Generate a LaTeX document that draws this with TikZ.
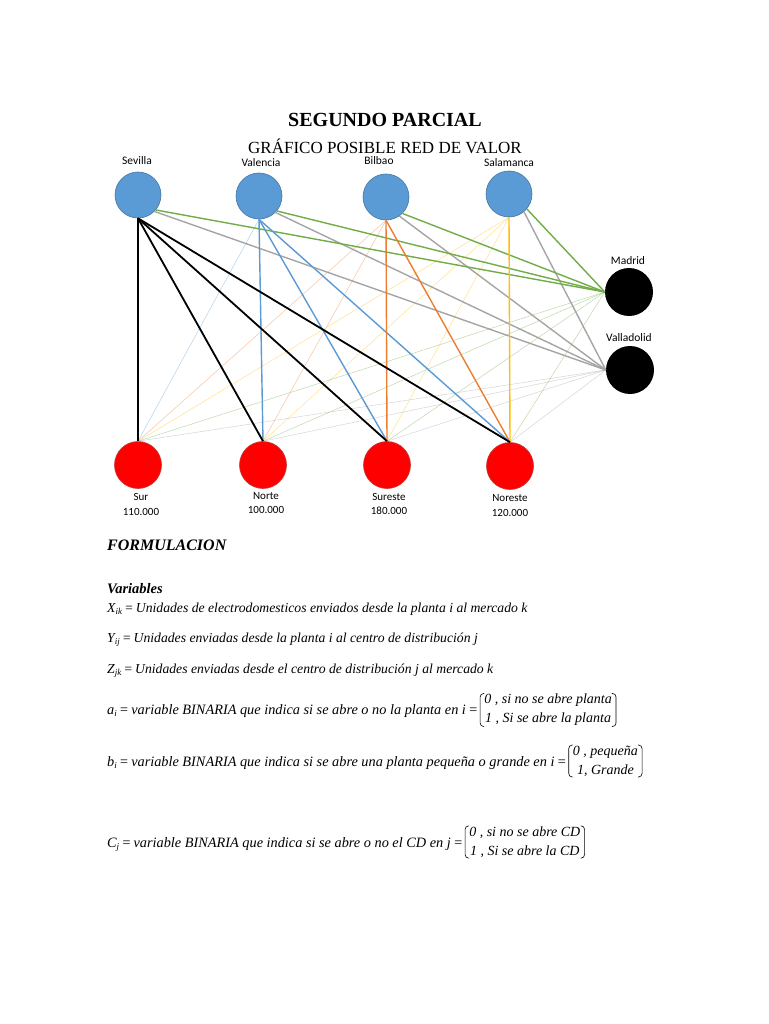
\documentclass[tikz,border=0pt]{standalone}
\usepackage{fontspec}
\setmainfont{Liberation Serif}
\newfontfamily\labfont{Carlito}
\usetikzlibrary{calc}
\definecolor{cblue}{HTML}{5B9BD5}
\definecolor{cgreen}{HTML}{70AD47}
\definecolor{cgray}{HTML}{A5A5A5}
\definecolor{corange}{HTML}{ED7D31}
\definecolor{cyellow}{HTML}{FFC000}
\definecolor{cred}{HTML}{FF0000}
\newcommand\subs[1]{\raisebox{-0.35ex}{\fontsize{9}{10}\selectfont #1}}
\begin{document}
\begin{tikzpicture}[x=1pt,y=-1pt,
  plant/.style={circle,fill=cblue,draw=cblue!75!black,line width=0.6pt,minimum size=46pt,inner sep=0pt},
  market/.style={circle,fill=cred,draw=cred!55!gray,line width=0.6pt,minimum size=47pt,inner sep=0pt},
  cd/.style={circle,fill=black,minimum size=48pt,inner sep=0pt},
  lab/.style={font=\labfont\fontsize{11}{13}\selectfont,inner sep=0pt},
  toplab/.style={font=\labfont\fontsize{11.5}{13}\selectfont,inner sep=0pt},
  strong/.style={line width=1.4pt},
  heavy/.style={line width=1.8pt},
  faint/.style={line width=0.5pt,opacity=0.45},
  eq/.style={font=\itshape\fontsize{13.7}{17}\selectfont,inner sep=0pt,anchor=base west},
  eqb/.style={font=\itshape\fontsize{14.3}{17}\selectfont,inner sep=0pt,anchor=base west},
  brk/.style={font=\itshape\fontsize{14}{19}\selectfont,align=center,inner xsep=4pt,inner ysep=0.5pt,anchor=west},
  brline/.style={line width=0.6pt,rounded corners=3.5pt},
]
\fill[white] (0,0) rectangle (768,1024);
\useasboundingbox (0,0) rectangle (768,1024);

% titles
\node[font=\bfseries\fontsize{20}{24}\selectfont] (t1) at (385,120) {SEGUNDO PARCIAL};
\node[font=\fontsize{17}{20}\selectfont] (t2) at (385,146) {GRÁFICO POSIBLE RED DE VALOR};

% nodes
\node[plant] (sev) at (138,195) {};
\node[plant] (val) at (259,196) {};
\node[plant] (bil) at (386,197) {};
\node[plant] (sal) at (509,194) {};
\node[cd] (mad) at (629,292) {};
\node[cd] (vld) at (630,370) {};
\node[market] (sur) at (138,465) {};
\node[market] (nor) at (263,465) {};
\node[market] (sue) at (387,465) {};
\node[market] (nre) at (510,466) {};

% labels
\node[toplab] (lsev) at (137,161) {Sevilla};
\node[toplab] (lval) at (261,163) {Valencia};
\node[toplab] (lbil) at (379,161) {Bilbao};
\node[toplab] (lsal) at (509,163) {Salamanca};
\node[toplab] (lmad) at (628,261) {Madrid};
\node[toplab] (lvld) at (629,338) {Valladolid};
\node[lab] (lsur) at (141,497) {Sur};
\node[lab] (vsur) at (141,512) {110.000};
\node[lab] (lnor) at (266,496) {Norte};
\node[lab] (vnor) at (266,510) {100.000};
\node[lab] (lsue) at (389,497) {Sureste};
\node[lab] (vsue) at (389,511) {180.000};
\node[lab] (lnre) at (510,498) {Noreste};
\node[lab] (vnre) at (510,513) {120.000};

% faint connectors
\draw[faint,cblue] (sur.north) -- (val.south);
\foreach \m in {sur,nor} \draw[faint,corange] (\m.north) -- (bil.south);
\foreach \m in {sur,nor,sue} \draw[faint,cyellow] (\m.north) -- (sal.south);
\foreach \m in {sur,nor,sue,nre} {
  \draw[faint,cgreen] (\m.north) -- (mad.west);
  \draw[faint,cgray] (\m.north) -- (vld.west);
}

% plant -> CD
\foreach \p/\a in {sev/-45,val/-45,bil/-55,sal/-50} \draw[strong,cgray] (\p.\a) -- (vld.west);
\foreach \p/\a in {sev/-40,val/-40,bil/-45,sal/-40} \draw[strong,cgreen] (\p.\a) -- (mad.west);

% plant -> market
\foreach \m in {nor,sue,nre} \draw[strong,cblue] (val.south) -- (\m.north);
\foreach \m in {sue,nre} \draw[strong,corange] (bil.south) -- (\m.north);
\draw[strong,cyellow] (sal.south) -- (nre.north);
\foreach \m in {sur,nor,sue,nre} \draw[heavy,black] (sev.south) -- (\m.north);

% formulation
\node[font=\bfseries\itshape\fontsize{16}{19}\selectfont,anchor=base west,inner sep=0pt] (form) at (107,550) {FORMULACION};
\node[font=\bfseries\itshape\fontsize{14.5}{17}\selectfont,anchor=base west,inner sep=0pt] (vars) at (107,593) {Variables};

\node[eq] (lx) at (107,612) {X\subs{ik}\,=\,Unidades de electrodomesticos enviados desde la planta i al mercado k};
\node[eq] (ly) at (107,642) {Y\subs{ij}\,=\,Unidades enviadas desde la planta i al centro de distribución j};
\node[eq] (lz) at (107,673) {Z\subs{jk}\,=\,Unidades enviadas desde el centro de distribución j al mercado k};
\node[eqb] (la) at (107,714) {a\subs{i}\,=\,variable BINARIA que indica si se abre o no la planta en i\,=};
\node[eqb] (lb) at (107,766) {b\subs{i}\,=\,variable BINARIA que indica si se abre una planta pequeña o grande en i\,=};
\node[eqb] (lc) at (107,847) {C\subs{j}\,=\,variable BINARIA que indica si se abre o no el CD en j\,=};

\coordinate (ya) at (0,710);
\coordinate (yb) at (0,761);
\coordinate (yc) at (0,842);
\node[brk] (ma) at ($(la.east |- ya)+(2,0)$) {0 , si no se abre planta\\1 , Si se abre la planta};
\node[brk] (mb) at ($(lb.east |- yb)+(2,0)$) {0 , pequeña\\1, Grande};
\node[brk] (mc) at ($(lc.east |- yc)+(2,0)$) {0 , si no se abre CD\\1 , Si se abre la CD};
\foreach \m in {ma,mb,mc} {
  \draw[brline] ($(\m.north west)+(4,0)$) -- (\m.north west) -- (\m.south west) -- ($(\m.south west)+(4,0)$);
  \draw[brline] ($(\m.north east)+(-4,0)$) -- (\m.north east) -- (\m.south east) -- ($(\m.south east)+(-4,0)$);
}
\end{tikzpicture}
\end{document}
